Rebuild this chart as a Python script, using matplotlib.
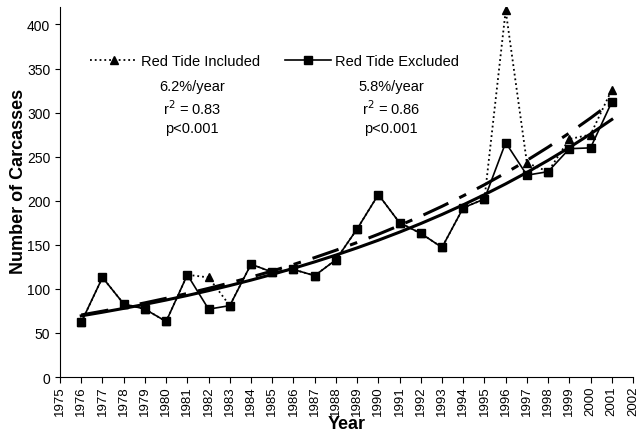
import numpy as np
import matplotlib.pyplot as plt

plt.rcParams['font.family'] = ['Liberation Sans', 'DejaVu Sans']

years = list(range(1976, 2002))
excluded = [62, 113, 83, 77, 63, 116, 77, 81, 128, 119, 122, 115, 133,
            168, 207, 175, 163, 147, 192, 202, 266, 229, 233, 259, 260, 312]
included = [62, 113, 83, 77, 63, 116, 113, 81, 128, 119, 122, 115, 133,
            168, 207, 175, 163, 147, 192, 202, 416, 243, 233, 270, 275, 326]

# exponential fits (log-linear)
yrs = np.array(years)
fit_exc = np.polyfit(yrs - 1976, np.log(excluded), 1)
fit_inc = np.polyfit(yrs - 1976, np.log(included), 1)
trend_exc = np.exp(np.polyval(fit_exc, yrs - 1976))
trend_inc = np.exp(np.polyval(fit_inc, yrs - 1976))

fig = plt.figure(figsize=(6.42, 4.35), dpi=100)
ax = fig.add_axes([0.0935, 0.131, 0.8925, 0.851])

ax.plot(years, trend_inc, color='black', lw=2.2, dashes=(9, 4, 2.5, 4))
ax.plot(years, trend_exc, color='black', lw=2.2)

l1, = ax.plot(years, included, color='black', ls=':', lw=1.3,
              marker='^', ms=6, label='Red Tide Included')
l2, = ax.plot(years, excluded, color='black', lw=1.2,
              marker='s', ms=6, label='Red Tide Excluded')

ax.legend(handles=[l1, l2], ncol=2, frameon=False, loc='upper left',
          bbox_to_anchor=(0.03, 0.908), handlelength=3.2, handletextpad=0.25,
          columnspacing=1.7, fontsize=10.5)

ax.text(0.23, 0.805, '6.2%/year\nr$^2$ = 0.83\np<0.001', transform=ax.transAxes,
        ha='center', va='top', fontsize=10.5, linespacing=1.35)
ax.text(0.578, 0.805, '5.8%/year\nr$^2$ = 0.86\np<0.001', transform=ax.transAxes,
        ha='center', va='top', fontsize=10.5, linespacing=1.35)

ax.set_xlim(1975, 2002)
ax.set_ylim(0, 420)
ax.set_xticks(range(1975, 2003))
ax.set_xticklabels([str(y) for y in range(1975, 2003)], rotation=90, fontsize=9.5)
ax.set_yticks(range(0, 401, 50))
ax.tick_params(axis='y', labelsize=10)
ax.tick_params(axis='x', pad=2, length=4)
ax.spines['top'].set_visible(False)
ax.spines['right'].set_visible(False)

ax.set_xlabel('Year', fontsize=13, fontweight='bold', labelpad=0)
ax.set_ylabel('Number of Carcasses', fontsize=13, fontweight='bold')
ax.yaxis.set_label_coords(-0.058, 0.53)

fig.savefig('out.png', dpi=100)
